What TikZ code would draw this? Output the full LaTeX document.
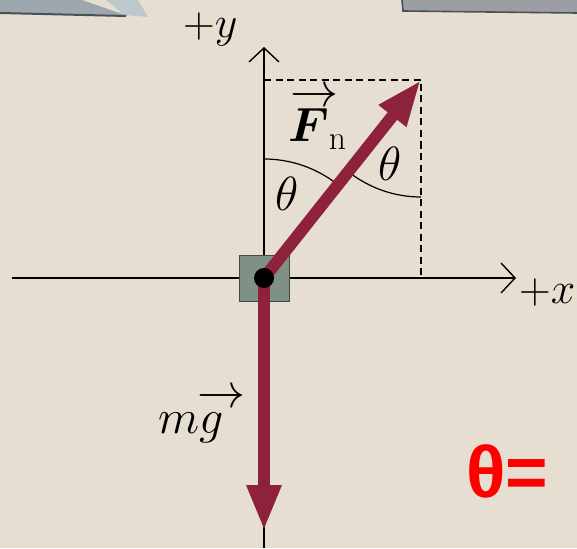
\RequirePackage{fix-cm}
\documentclass[tikz,border=0pt]{standalone}
\usepackage{amsmath}
\usepackage{graphicx}
\usepackage{fontspec}
\usetikzlibrary{arrows.meta}
\newfontfamily\thetafont{Liberation Sans}
\newcommand\arrowabove[3]{\rlap{\hspace*{#2}\raisebox{#3}{$\rightarrow$}}#1}
\definecolor{bgbeige}{RGB}{230,222,209}
\definecolor{forcered}{RGB}{142,33,60}
\definecolor{blockfill}{RGB}{127,145,132}
\definecolor{blockline}{RGB}{70,72,70}
\definecolor{greyA}{RGB}{158,166,174}
\definecolor{greyB}{RGB}{190,199,206}
\definecolor{greyC}{RGB}{155,159,163}
\definecolor{greyD}{RGB}{74,80,88}
\begin{document}
\begin{tikzpicture}[x=1pt,y=-1pt,
  axisline/.style={line width=1.4pt,black,-{Straight Barb[length=14pt,width=30pt,line width=1.4pt]}},
  guideline/.style={line width=1.2pt,black,dash pattern=on 7pt off 4.5pt},
  anglearc/.style={line width=1.2pt,black},
  forcevec/.style={line width=12pt,forcered,-{Triangle[length=46pt,width=32pt]}},
  lbl/.style={inner sep=0pt,anchor=base west,font=\fontsize{48}{52}\selectfont},
  axlbl/.style={inner sep=0pt,anchor=base west,font=\fontsize{44}{48}\selectfont},
  blockbox/.style={draw=blockline,line width=1pt,fill=blockfill,minimum width=50pt,minimum height=46pt,inner sep=0pt}
]
% background
\fill[bgbeige] (0,0) rectangle (577,548);
\useasboundingbox (0,0) rectangle (577,548);
% top corner fragments
\fill[greyA] (0,0) -- (82,0) -- (128,16) -- (0,13) -- cycle;
\fill[greyB] (106,0) -- (138,0) -- (148,17) -- (124,15) -- cycle;
\draw[greyD,line width=2pt] (0,13) -- (126,16);
\fill[greyC] (402,0) rectangle (577,12);
\draw[greyD,line width=1.6pt] (402,0) -- (403,11) -- (577,13);

% key points
\coordinate (O) at (264,278);
\coordinate (Ftip) at (421,80);
\coordinate (Wtip) at (264,531);
\coordinate (xl) at (12,278);
\coordinate (xr) at (516,278);
\coordinate (yt) at (264,47);
\coordinate (yb) at (264,548);

% axes
\draw[axisline] (xl) -- (xr);
\draw[axisline] (yb) -- (yt);
% dashed components
\draw[guideline] (O |- Ftip) -- (Ftip) -- (Ftip |- O);
% angle arcs
\draw[anglearc] (264,159) arc[start angle=270,end angle=308.4,radius=119];
\draw[anglearc] (Ftip) ++(128.4:117) arc[start angle=128.4,end angle=90,radius=117];

% block
\node[blockbox] (blk) at (O) {};
% forces
\draw[forcevec] (O) -- (Ftip);
\draw[forcevec] (O) -- (Wtip);
\fill[black] (O) circle[radius=10];

% labels
\node[axlbl] (ylab) at (183,38) {$+y$};
\node[axlbl] (xlab) at (519,303) {$+x$};
\node[lbl] (Flab) at (288,142) {$\arrowabove{\boldsymbol{F}}{2pt}{35pt}_{\mathrm{n}}$};
\node[lbl] (th1) at (275,210) {$\theta$};
\node[lbl] (th2) at (378,180) {$\theta$};
\node[lbl] (mglab) at (158,433) {$m\arrowabove{g}{-2pt}{26pt}$};
\node[inner sep=0pt,anchor=base west,text=red,font=\thetafont\bfseries\fontsize{73}{77}\selectfont] (theq) at (466,497) {θ=};
\end{tikzpicture}
\end{document}
